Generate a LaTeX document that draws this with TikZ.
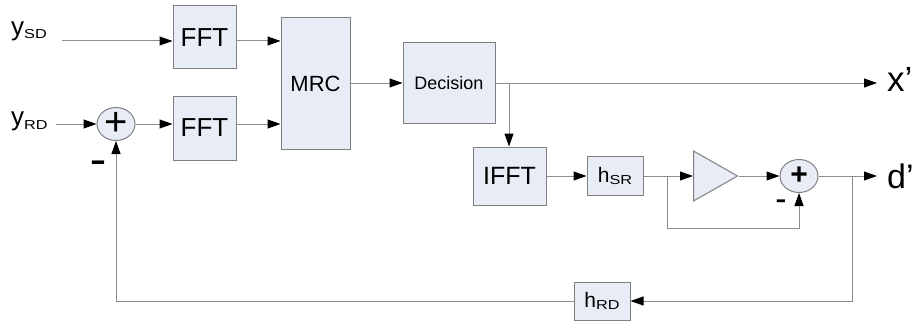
\documentclass[tikz,border=0pt]{standalone}
\usepackage{fontspec}
\setmainfont{Liberation Sans}
\usepackage{graphicx}
\usetikzlibrary{arrows.meta,shapes.geometric}
\definecolor{boxfill}{HTML}{E8ECF5}
\definecolor{boxline}{HTML}{7F7F7F}
\definecolor{wire}{HTML}{8C8C8C}
\newcommand\fsz[1]{\fontsize{#1}{#1}\selectfont}
% lowered, slightly widened subscript
\newcommand\lsub[2]{\raisebox{-#2pt}{\scalebox{1.25}[1]{\fsz{13}#1}}}

\begin{document}
\begin{tikzpicture}[x=1pt,y=-1pt,
  blk/.style={draw=boxline, fill=boxfill, line width=1pt, inner sep=0pt, align=center},
  sumnode/.style={ellipse, draw=boxline, fill=boxfill, line width=1pt, inner sep=0pt,
                  minimum width=38pt, minimum height=33pt},
  wirel/.style={draw=wire, line width=1pt},
  sig/.style={wirel, -{Triangle[length=13pt,width=9pt,color=black]}},
  lbl/.style={inner sep=0pt, anchor=base west},
  sign/.style={inner sep=0pt}
]
\useasboundingbox (0,0) rectangle (918,321);

% processing blocks
\node[blk, minimum width=63pt, minimum height=63pt, font=\fsz{26}] (fft1) at (204.5,37.5) {FFT};
\node[blk, minimum width=63pt, minimum height=64pt, font=\fsz{26}] (fft2) at (204.5,128) {FFT};
\node[blk, minimum width=69pt, minimum height=131pt, font=\fsz{22}] (mrc) at (315.5,83.5) {MRC};
\node[blk, minimum width=92pt, minimum height=80pt, font=\fsz{18}] (dec) at (449,83) {Decision};
\node[blk, minimum width=73pt, minimum height=58pt, font=\fsz{25}] (ifft) at (509.5,176) {IFFT};
\node[blk, minimum width=56pt, minimum height=39pt, font=\fsz{21}] (hsr) at (615,176) {h\lsub{SR}{1.5}};
\node[blk, minimum width=56pt, minimum height=38pt, font=\fsz{21}] (hrd) at (602,301) {h\lsub{RD}{1.5}};

% amplifier
\node[isosceles triangle, isosceles triangle stretches, draw=boxline, fill=boxfill,
      line width=1pt, inner sep=0pt, minimum height=44pt, minimum width=50pt,
      anchor=lower side] (amp) at (693,176) {};

% summing junctions
\node[sumnode] (sum1) at (116,124) {};
\node[sign, font=\fsz{40}] (sum1p) at (sum1.center) {+};
\node[sumnode] (sum2) at (799,176) {};
\node[sign, font=\fsz{30}\bfseries] (sum2p) at (sum2.center) {+};
\node[sign, font=\fsz{30}\bfseries] (m1) at (98,165.5) {\scalebox{1.6}[1]{-}};
\node[sign, font=\fsz{24}\bfseries] (m2) at (781,204) {\scalebox{1.35}[1]{-}};

% signal labels
\node[lbl, font=\fsz{26}] (ysd) at (11,35.5) {y\lsub{SD}{3.5}};
\node[lbl, font=\fsz{26}] (yrd) at (11,125.5) {y\lsub{RD}{3.5}};
\node[lbl, font=\fsz{35}] (xout) at (887,91.5) {x’};
\node[lbl, font=\fsz{34}] (dout) at (887,188) {d’};

% wire end points and branch points
\coordinate (in1) at (62,41);
\coordinate (in2) at (56,124);
\coordinate (xend) at (877,83);
\coordinate (dend) at (877,176);
\coordinate (brdec) at (509,83);
\coordinate (brh) at (667,176);
\coordinate (byp) at (667,228);
\coordinate (brd) at (852,176);

% connections
\draw[sig] (in1) -- (in1 -| fft1.west);
\draw[sig] (in2) -- (sum1.west);
\draw[sig] (sum1.east) -- (sum1.east -| fft2.west);
\draw[sig] (fft1.east |- in1) -- (in1 -| mrc.west);
\draw[sig] (fft2.east |- in2) -- (in2 -| mrc.west);
\draw[sig] (mrc.east |- dec) -- (dec.west);
\draw[sig] (dec.east) -- (xend);
\draw[sig] (brdec) -- (brdec |- ifft.north);
\draw[sig] (ifft.east) -- (hsr.west);
\draw[sig] (hsr.east) -- (amp.lower side);
\draw[sig] (amp.apex) -- (sum2.west);
\draw[sig] (brh) -- (byp) -| (sum2.south);
\draw[sig] (sum2.east) -- (dend);
\draw[sig] (brd) |- (hrd.east);
\draw[sig] (hrd.west) -| (sum1.south);
\end{tikzpicture}
\end{document}
